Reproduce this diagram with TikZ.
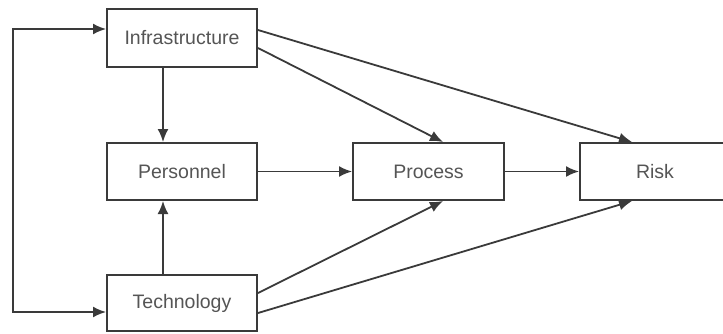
\documentclass[tikz,border=0pt]{standalone}
\usepackage{fontspec}
\setmainfont{Liberation Sans}
\usetikzlibrary{arrows.meta}
\definecolor{edge}{HTML}{3A3A3A}
\definecolor{txt}{HTML}{555555}
\begin{document}
\begin{tikzpicture}[x=1bp,y=-1bp,
  box/.style={draw=edge,line width=2bp,fill=white,minimum width=150bp,inner sep=0pt,
    text=txt,font=\fontsize{19.5bp}{22bp}\selectfont},
  conn/.style={draw=edge,line width=1.8bp,-{Latex[length=13bp,width=11bp]}}]
\useasboundingbox (0,0) rectangle (723,333);
\clip (0,0) rectangle (723,333);
\node[box,minimum height=58bp] (infra) at (182,38) {Infrastructure};
\node[box,minimum height=57bp] (pers) at (182,171.5) {Personnel};
\node[box,minimum height=56bp] (tech) at (182,303) {Technology};
\node[box,minimum height=57bp,minimum width=151bp] (proc) at (428.5,171.5) {Process};
\node[box,minimum height=57bp] (risk) at (655,171.5) {Risk};
\coordinate (loopx) at (13,0);
\coordinate (la) at ([yshift=9bp]infra.west);
\coordinate (lb) at ([yshift=-9bp]tech.west);
\draw[conn,{Latex[length=13bp,width=11bp]}-{Latex[length=13bp,width=11bp]}] (la) -- (la -| loopx) -- (lb -| loopx) -- (lb);
\draw[conn] ([xshift=-19bp]infra.south) -- ([xshift=-19bp]pers.north);
\draw[conn] ([xshift=-19bp]tech.north) -- ([xshift=-19bp]pers.south);
\draw[conn] (pers.east) -- (proc.west);
\draw[conn] (proc.east) -- (risk.west);
\draw[conn] ([yshift=8bp]infra.east) -- ([xshift=-23bp]risk.north);
\draw[conn] ([yshift=-10bp]infra.east) -- ([xshift=14.5bp]proc.north);
\draw[conn] ([yshift=10bp]tech.east) -- ([xshift=14.5bp]proc.south);
\draw[conn] ([yshift=-10bp]tech.east) -- ([xshift=-23bp]risk.south);
\end{tikzpicture}
\end{document}
